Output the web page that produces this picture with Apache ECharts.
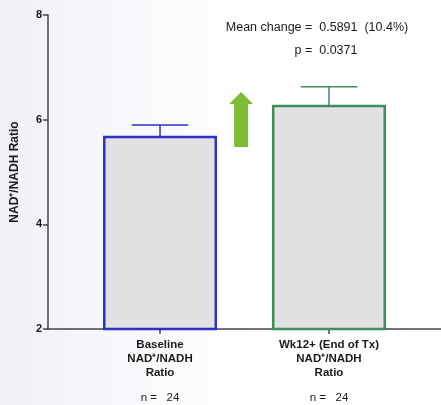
<!DOCTYPE html>
<html>
<head>
<meta charset="utf-8">
<script src="https://cdn.jsdelivr.net/npm/echarts@6/dist/echarts.min.js"></script>
<style>
  html, body { margin: 0; padding: 0; background: #fff; }
  #chart { width: 441px; height: 405px; }
</style>
</head>
<body>
<div id="chart"></div>
<script>
// Group names, means and SEM of the NAD+/NADH ratio
const categories = ['Baseline', 'Wk12+ (End of Tx)'];
const means = [5.67, 6.26];
const sem = [0.23, 0.37];
const sampleSizes = [24, 24];
const yTicks = [2, 4, 6, 8];
const barColors = ['#2f31c4', '#3f8c5c'];
// Up arrow between the two bars: x position, base and tip on the value scale
const arrowSpan = { x: 1.48, from: 5.48, to: 6.53 };
const annotation = ['Mean change =  0.5891  (10.4%)', 'p =  0.0371'];

const FONT = '"Liberation Sans", Arial, Helvetica, sans-serif';
const positions = categories.map((_, i) => i + 1);
const BAR_HALF = 0.33;
const CAP_HALF = 0.167;

const chart = echarts.init(document.getElementById('chart'), null, { renderer: 'canvas' });

chart.setOption({
  animation: false,
  backgroundColor: {
    type: 'linear', x: 0, y: 0, x2: 1, y2: 0,
    colorStops: [
      { offset: 0, color: '#f1f0f7' },
      { offset: 0.35, color: '#fafafd' },
      { offset: 0.6, color: '#ffffff' }
    ]
  },
  grid: { left: 48, right: 0, top: 15, bottom: 76 },
  xAxis: {
    type: 'value',
    min: 0.337,
    max: 2.663,
    splitLine: { show: false },
    axisLine: { show: true, onZero: false, lineStyle: { color: '#444', width: 1.5 } },
    axisTick: { show: true, customValues: positions, length: 5, lineStyle: { color: '#444', width: 1.5 } },
    axisLabel: {
      customValues: positions,
      margin: 9,
      formatter: function (v) {
        const i = Math.round(v) - 1;
        return '{b|' + categories[i] + '}\n{b|NAD\u207A/NADH}\n{b|Ratio}\n{n|n =   ' + sampleSizes[i] + '}';
      },
      rich: {
        b: { fontFamily: FONT, fontWeight: 'bold', fontSize: 11.5, color: '#1a1a1a', lineHeight: 14 },
        n: { fontFamily: FONT, fontSize: 11.5, color: '#1a1a1a', lineHeight: 36 }
      }
    }
  },
  yAxis: {
    type: 'value',
    min: 2,
    max: 8,
    interval: 2,
    splitLine: { show: false },
    axisLine: { show: true, lineStyle: { color: '#444', width: 1.5 } },
    axisTick: { show: true, length: 5, lineStyle: { color: '#444', width: 1.5 } },
    axisLabel: {
      margin: 6,
      fontFamily: FONT, fontWeight: 'bold', fontSize: 11, color: '#1a1a1a',
      formatter: v => yTicks.includes(v) ? String(v) : ''
    },
    name: 'NAD\u207A/NADH Ratio',
    nameLocation: 'middle',
    nameRotate: 90,
    nameGap: 27,
    nameTextStyle: { fontFamily: FONT, fontWeight: 'bold', fontSize: 12, color: '#1a1a1a' }
  },
  series: [
    {
      // mean bars
      type: 'custom',
      data: means.map((m, i) => [positions[i], m]),
      renderItem: function (params, api) {
        const x = api.value(0), y = api.value(1);
        const p0 = api.coord([x - BAR_HALF, y]);
        const p1 = api.coord([x + BAR_HALF, 2]);
        return {
          type: 'rect',
          shape: { x: p0[0], y: p0[1], width: p1[0] - p0[0], height: p1[1] - p0[1] },
          style: { fill: '#e2e2e2', stroke: barColors[params.dataIndex], lineWidth: 2.5 }
        };
      },
      z: 2
    },
    {
      // upper SEM whiskers
      type: 'custom',
      data: means.map((m, i) => [positions[i], m, m + sem[i]]),
      renderItem: function (params, api) {
        const x = api.value(0), lo = api.value(1), hi = api.value(2);
        const a = api.coord([x, lo]);
        const b = api.coord([x, hi]);
        const c0 = api.coord([x - CAP_HALF, hi]);
        const c1 = api.coord([x + CAP_HALF, hi]);
        const st = { stroke: barColors[params.dataIndex], lineWidth: 1.5 };
        return {
          type: 'group',
          children: [
            { type: 'line', shape: { x1: a[0], y1: a[1], x2: b[0], y2: b[1] }, style: st },
            { type: 'line', shape: { x1: c0[0], y1: c0[1], x2: c1[0], y2: c1[1] }, style: st }
          ]
        };
      },
      z: 1
    },
    {
      // up arrow marking the increase
      type: 'custom',
      data: [[arrowSpan.x, arrowSpan.from, arrowSpan.to]],
      renderItem: function (params, api) {
        const x = api.value(0);
        const base = api.coord([x, api.value(1)]);
        const tip = api.coord([x, api.value(2)]);
        const headH = 12, headHalf = 12, shaftHalf = 7;
        const cx = base[0];
        return {
          type: 'polygon',
          shape: {
            points: [
              [cx - shaftHalf, base[1]],
              [cx - shaftHalf, tip[1] + headH],
              [cx - headHalf, tip[1] + headH],
              [cx, tip[1]],
              [cx + headHalf, tip[1] + headH],
              [cx + shaftHalf, tip[1] + headH],
              [cx + shaftHalf, base[1]]
            ]
          },
          style: { fill: '#7dbd33' }
        };
      },
      z: 3
    }
  ],
  graphic: [
    {
      type: 'text', x: 317, y: 28,
      style: { text: annotation[0], fontFamily: FONT, fontSize: 12.5, fill: '#1a1a1a', align: 'center', verticalAlign: 'middle' }
    },
    {
      type: 'text', x: 326, y: 51,
      style: { text: annotation[1], fontFamily: FONT, fontSize: 12.5, fill: '#1a1a1a', align: 'center', verticalAlign: 'middle' }
    }
  ]
});
</script>
</body>
</html>
